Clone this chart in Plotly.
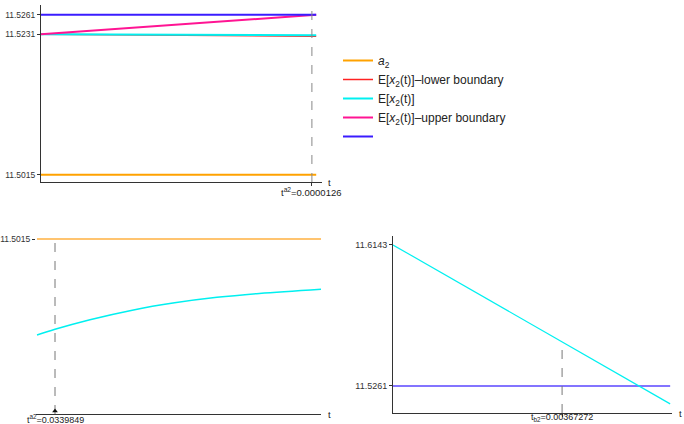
import plotly.graph_objects as go

W, H = 684, 424

# ---------------- data ----------------
# Panel 1 (top left)
t1 = [0.0, 0.0000128]
a2_top = [11.5015, 11.5015]
lower_top = [11.5231, 11.5228]
mean_top = [11.5231, 11.52295]
upper_top = [11.5231, 11.5261]
blue_top = [11.5261, 11.5261]
t_a2_top = 0.0000126
top_yticks = [11.5015, 11.5231, 11.5261]

# Panel 2 (bottom left)
t2 = [0.0, 0.034, 0.1, 0.18, 0.26, 0.34, 0.42, 0.5365]
mean_bl = [11.49519, 11.49557, 11.49620, 11.49683, 11.49731, 11.49767, 11.49793, 11.49821]
a2_bl = [11.5015, 11.5015]
t2_ends = [0.0, 0.5365]
t_a2_bl = 0.0339849
bl_yticks = [11.5015]

# Panel 3 (bottom right)
t3 = [0.0, 0.00602]
mean_br = [11.6143, 11.5149]
blue_br = [11.5261, 11.5261]
t_b2 = 0.00367272
mean_at_tb2 = 11.5536
br_yticks = [11.5261, 11.6143]

# colours
ORANGE = "#FFA200"
RED = "#FF2222"
CYAN = "#00F0F0"
MAGENTA = "#FF1493"
BLUE = "#3A1CFF"
AX = "#333333"
FONT = "Liberation Sans"

fig = go.Figure()

def px_x(p):
    return p / W

def px_y(p):
    return 1 - p / H

# ---- panel 1 traces ----
fig.add_trace(go.Scatter(x=t1, y=a2_top, mode="lines", line=dict(color=ORANGE, width=2),
                         name="<i>a</i><sub>2</sub>", xaxis="x", yaxis="y"))
fig.add_trace(go.Scatter(x=t1, y=lower_top, mode="lines", line=dict(color=RED, width=1.5),
                         name="E[<i>x</i><sub>2</sub>(t)]–lower boundary", xaxis="x", yaxis="y"))
fig.add_trace(go.Scatter(x=t1, y=mean_top, mode="lines", line=dict(color=CYAN, width=2),
                         name="E[<i>x</i><sub>2</sub>(t)]", xaxis="x", yaxis="y"))
fig.add_trace(go.Scatter(x=t1, y=upper_top, mode="lines", line=dict(color=MAGENTA, width=2),
                         name="E[<i>x</i><sub>2</sub>(t)]–upper boundary", xaxis="x", yaxis="y"))
fig.add_trace(go.Scatter(x=t1, y=blue_top, mode="lines", line=dict(color=BLUE, width=2),
                         name=" ", xaxis="x", yaxis="y"))
fig.add_trace(go.Scatter(x=[t_a2_top, t_a2_top], y=[11.5004, 11.5276], mode="lines",
                         line=dict(color="#888888", width=1, dash="dash"),
                         showlegend=False, xaxis="x", yaxis="y"))

# ---- panel 2 traces ----
fig.add_trace(go.Scatter(x=t2_ends, y=a2_bl, mode="lines", line=dict(color="#FFB040", width=1.5),
                         showlegend=False, xaxis="x2", yaxis="y2"))
fig.add_trace(go.Scatter(x=t2, y=mean_bl, mode="lines", line=dict(color=CYAN, width=1.5, shape="spline"),
                         showlegend=False, xaxis="x2", yaxis="y2"))
fig.add_trace(go.Scatter(x=[t_a2_bl, t_a2_bl], y=[11.49, 11.5015], mode="lines",
                         line=dict(color="#777777", width=1, dash="dash"),
                         showlegend=False, xaxis="x2", yaxis="y2"))
fig.add_trace(go.Scatter(x=[t_a2_bl], y=[11.4902], mode="markers",
                         marker=dict(symbol="triangle-up", size=5, color="#111111"),
                         showlegend=False, xaxis="x2", yaxis="y2"))

# ---- panel 3 traces ----
fig.add_trace(go.Scatter(x=t3, y=blue_br, mode="lines", line=dict(color="#5A46FF", width=1.5),
                         showlegend=False, xaxis="x3", yaxis="y3"))
fig.add_trace(go.Scatter(x=t3, y=mean_br, mode="lines", line=dict(color=CYAN, width=1.2),
                         showlegend=False, xaxis="x3", yaxis="y3"))
fig.add_trace(go.Scatter(x=[t_b2, t_b2], y=[11.5092, mean_at_tb2], mode="lines",
                         line=dict(color="#777777", width=1, dash="dash"),
                         showlegend=False, xaxis="x3", yaxis="y3"))

def axis_common(size=9):
    return dict(showgrid=False, zeroline=False, showline=True, linecolor=AX, linewidth=1,
                ticks="outside", ticklen=3, tickcolor=AX, automargin=False,
                tickfont=dict(family=FONT, size=size, color=AX))

ax2y = axis_common(8.5)
ax2y["showline"] = False

fig.update_layout(
    width=W, height=H, autosize=False,
    margin=dict(l=0, r=0, t=0, b=0),
    plot_bgcolor="white", paper_bgcolor="white",
    font=dict(family=FONT, size=10, color="#222222"),
    xaxis=dict(domain=[px_x(41), px_x(322)], range=[0, 0.00001307], anchor="y",
               tickvals=[t_a2_top], ticktext=[""], **axis_common()),
    yaxis=dict(domain=[px_y(182), px_y(5)], range=[11.5004, 11.5276], anchor="x",
               tickvals=top_yticks, ticktext=[f"{v:.4f}" for v in top_yticks], **axis_common(8.5)),
    xaxis2=dict(domain=[px_x(36), px_x(321)], range=[-0.0019, 0.5365], anchor="y2",
                tickvals=[], **axis_common()),
    yaxis2=dict(domain=[px_y(414), px_y(230)], range=[11.49, 11.5021], anchor="x2",
                tickvals=bl_yticks, ticktext=[f"{v:.4f}" for v in bl_yticks], **ax2y),
    xaxis3=dict(domain=[px_x(393), px_x(672)], range=[0, 0.00606], anchor="y3",
                tickvals=[t_b2], ticktext=[""], **axis_common()),
    yaxis3=dict(domain=[px_y(413), px_y(236)], range=[11.5092, 11.6199], anchor="x3",
                tickvals=br_yticks, ticktext=[f"{v:.4f}" for v in br_yticks], **axis_common()),
    legend=dict(x=px_x(338), y=px_y(46), xanchor="left", yanchor="top",
                font=dict(family=FONT, size=12, color="#222222"),
                bgcolor="rgba(0,0,0,0)", itemwidth=30, tracegroupgap=0),
)

ann_font = dict(family=FONT, size=9.5, color="#222222")
bot_font = dict(family=FONT, size=9, color="#222222")
fig.add_annotation(x=t_a2_top, y=11.5004, xref="x", yref="y", yshift=-2,
                   text="t<sup>a2</sup>=0.0000126", showarrow=False, yanchor="top", font=ann_font)
fig.add_annotation(x=0.00001307, y=11.5004, xref="x", yref="y", xshift=4,
                   text="t", showarrow=False, xanchor="left", yanchor="middle", font=ann_font)
fig.add_annotation(x=t_a2_bl, y=11.49, xref="x2", yref="y2", yshift=3,
                   text="t<sup>a2</sup>=0.0339849", showarrow=False, yanchor="top", font=bot_font)
fig.add_annotation(x=0.5365, y=11.49, xref="x2", yref="y2", xshift=5,
                   text="t", showarrow=False, xanchor="left", yanchor="middle", font=ann_font)
fig.add_annotation(x=t_b2, y=11.5092, xref="x3", yref="y3", yshift=3,
                   text="t<sub>b2</sub>=0.00367272", showarrow=False, yanchor="top", font=bot_font)
fig.add_annotation(x=0.00606, y=11.5092, xref="x3", yref="y3", xshift=5,
                   text="t", showarrow=False, xanchor="left", yanchor="middle", font=ann_font)

fig.write_html("out.html", config={"displayModeBar": False},
               post_script="document.body.style.margin='0';document.body.style.overflow='hidden';")
